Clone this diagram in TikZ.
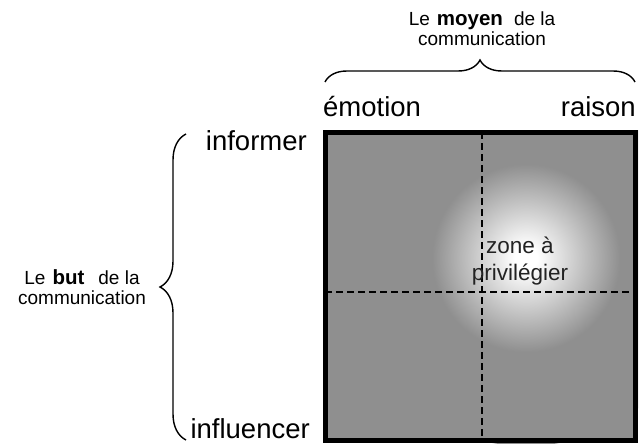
\documentclass[tikz,border=0pt]{standalone}
\usepackage{fontspec}
\setmainfont{Liberation Sans}
\usetikzlibrary{decorations.pathreplacing}
\definecolor{boxgray}{HTML}{8F8F8F}
\definecolor{txtgray}{HTML}{222222}
\pgfdeclareradialshading{glow}{\pgfpoint{0bp}{0bp}}{color(0bp)=(white); color(1.5bp)=(white); color(12.5bp)=(boxgray); color(50bp)=(boxgray)}
\tikzset{
  lbl/.style={inner sep=0pt, font=\fontsize{27.5}{30}\selectfont},
  small/.style={inner sep=0pt, align=center, font=\fontsize{19}{20}\selectfont},
  brc/.style={decorate, decoration={brace, amplitude=#1}, line width=1.4pt},
  divider/.style={dash pattern=on 7pt off 4pt, line width=1.8pt},
}
\newcommand{\bw}[1]{\textbf{\fontsize{20.5}{20}\selectfont #1}}
\begin{document}
\begin{tikzpicture}[x=1pt,y=-1pt]
\useasboundingbox (0,0) rectangle (640,444);
% box
\fill[boxgray] (323,130) rectangle (638,443);
\begin{scope}
\clip (323,130) rectangle (638,443);
\shade[shading=glow] (526,258) circle (188);
\end{scope}
\draw[divider] (482,132) -- (482,441);
\draw[divider] (325,292) -- (636,292);
\draw[line width=5pt] (325.5,132.5) rectangle (635.5,440.5);
\node[inner sep=0pt, align=center, anchor=north, text=txtgray,
      font=\fontsize{22.5}{27}\selectfont] (zone) at (520,237) {zone à\\privilégier};
% top
\node[small, anchor=north] (moyen) at (482,12) {Le\hspace{7pt}\bw{moyen}\hspace{11pt}de la\\communication};
\coordinate (tl) at (325,82);
\coordinate (tr) at (635,82);
\draw[brc=22] (tl) -- (tr);
\node[lbl, anchor=base west] (emo) at (323,117) {émotion};
\node[lbl, anchor=base east] (rai) at (636,117) {raison};
% left
\node[small, anchor=north] (but) at (82,269) {Le\hspace{7pt}\bw{but}\hspace{14pt}de la\\communication};
\coordinate (lb) at (186,440);
\coordinate (lt) at (186,134);
\draw[brc=26] (lb) -- (lt);
\node[lbl, anchor=base east] (inf) at (307,150) {informer};
\node[lbl, anchor=base east] (infl) at (310,438) {influencer};
\end{tikzpicture}
\end{document}
